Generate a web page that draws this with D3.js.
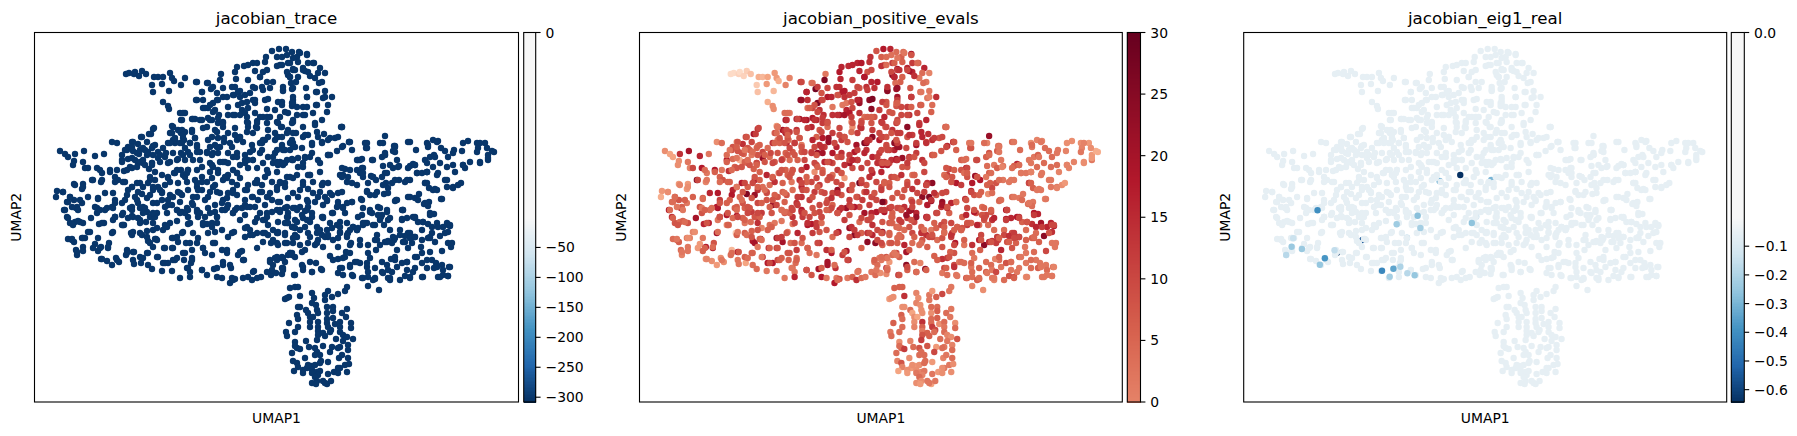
<!DOCTYPE html>
<html>
<head>
<meta charset="utf-8">
<title>Jacobian summaries on UMAP</title>
<script src="https://cdn.jsdelivr.net/npm/d3@7/dist/d3.min.js"></script>
<style>
  html, body { margin: 0; padding: 0; background: #fff; }
  svg { display: block; }
  text { font-family: "DejaVu Sans", sans-serif; fill: #000; }
</style>
</head>
<body>
<div id="chart"></div>
<script>
// Cells as [UMAP1, UMAP2, number of positive eigenvalues], grouped by region of the embedding.
const tailCells = [[126,74,-18],[129,73,-18],[134,74,-16],[135,72,-18],[139,76,-16],[142,71,-15],[146,74,-12],[154,77,-8],[158,77,-10],[163,77,-6],[170,73,-4],[172,78,-4],[174,81,-8],[162,84,-4],[152,85,-14],[153,92,-12],[169,91,-10],[163,102,-8],[168,106,-2],[169,109,-2],[181,85,0],[185,78,0],[196,82,14],[207,83,2],[221,74,2],[220,80,26],[211,89,28],[202,92,22],[196,100,24],[203,100,14]];

const crownCells = [[213,103,26],[217,100,14],[223,97,18],[227,97,16],[223,88,10],[217,93,8],[235,87,14],[240,91,18],[234,95,10],[235,72,18],[236,79,16],[237,67,16],[244,66,15],[248,65,16],[253,63,16],[257,63,18],[265,62,14],[266,57,14],[272,51,8],[279,49,18],[286,49,16],[292,52,4],[299,52,4],[307,54,20],[297,57,6],[287,55,3],[277,57,6],[314,63,8],[308,63,12],[320,68,16],[288,63,12],[280,65,8],[277,66,14],[298,62,6],[293,69,20],[288,75,24],[290,77,20],[303,68,16],[308,72,16],[318,73,4],[325,73,0],[315,78,2],[322,82,2],[319,83,4],[310,76,14],[298,77,6],[296,82,6],[283,90,20],[292,89,22],[293,97,20],[306,88,8],[307,97,20],[316,92,4],[325,91,2],[332,97,14],[323,98,2],[328,105,4],[316,105,10],[292,106,8],[303,107,12],[282,102,8],[327,112,6],[322,120,16],[313,113,10],[305,115,14],[297,115,10],[288,113,8],[280,117,16],[292,123,12],[303,127,24],[315,123,12],[260,77,26],[255,71,16],[263,72,8],[267,82,16],[273,82,18],[255,88,8],[262,87,14],[270,88,14],[283,91,24],[282,65,4],[293,70,12],[291,83,4],[305,71,20],[293,88,22],[250,93,12],[245,95,12],[238,92,18],[232,87,14],[278,102,12],[282,105,8],[292,103,4],[297,107,10],[307,107,6],[275,110,12],[255,113,14],[248,108,10],[242,110,16]];

const shoulderCells = [[341,127,6],[308,135,12],[317,132,16],[324,134,14],[318,137,16],[335,138,8],[328,140,14],[312,145,20],[303,137,8],[296,133,12],[288,130,14],[278,137,14],[291,142,22],[295,147,20],[290,150,16],[282,147,6],[275,153,12],[349,142,14],[343,146,16],[337,151,8],[328,155,6],[318,160,14],[312,153,12],[305,157,14],[298,158,22],[292,159,22],[285,163,10],[278,165,18],[298,167,8],[308,175,4],[320,172,10],[328,183,24],[322,185,18],[313,182,12],[303,182,8],[293,178,6],[285,183,6],[277,187,10],[300,190,8],[308,189,14],[318,197,24],[325,197,26],[327,201,22],[338,193,10],[338,202,22],[337,207,14],[323,205,18],[315,202,6],[307,200,6],[298,197,8],[288,198,8],[280,202,14],[295,208,8],[305,211,20],[312,213,16],[303,218,12],[288,213,6],[280,212,18],[278,222,8],[292,227,2],[300,230,4],[310,222,10],[322,217,18],[330,223,6],[340,222,8],[347,223,10],[318,230,2],[308,233,10],[327,230,2],[295,235,4],[285,233,6],[353,227,4],[357,230,8],[345,213,6],[352,202,0],[347,203,16]];

const armCells = [[357,160,6],[362,159,4],[372,160,8],[382,157,6],[385,153,8],[383,166,4],[362,168,18],[390,165,2],[399,166,2],[413,164,16],[410,166,6],[365,143,2],[366,148,8],[383,143,0],[385,136,22],[394,146,2],[393,151,6],[408,142,4],[416,150,4],[345,169,10],[343,175,12],[357,170,8],[360,173,4],[363,177,8],[352,183,18],[347,182,8],[340,175,4],[371,176,22],[376,180,18],[368,183,18],[385,173,6],[382,177,2],[386,183,6],[388,188,10],[392,183,8],[399,180,2],[405,182,2],[410,180,2],[417,173,4],[422,173,2],[427,172,2],[437,175,2],[425,183,18],[429,188,6],[433,190,2],[447,187,2],[453,187,2],[458,185,-2],[461,183,-4],[445,180,2],[425,160,2],[430,157,2],[434,155,6],[428,147,2],[427,143,-2],[433,140,0],[438,141,0],[441,148,4],[445,151,4],[454,150,2],[448,157,4],[440,163,4],[447,167,4],[453,165,4],[455,172,0],[463,165,2],[465,168,0],[470,162,0],[463,143,-2],[468,141,-2],[462,151,0],[477,143,-2],[478,148,0],[485,143,-4],[488,155,-4],[494,152,-8],[492,151,-8],[480,163,-2],[488,160,2],[477,152,2],[342,127,8],[349,142,12],[352,150,6],[367,148,8],[373,160,10],[380,143,4],[395,146,4],[410,142,2],[428,145,4],[437,142,2],[385,155,6],[393,168,6],[408,168,4],[415,165,10],[427,172,4],[433,167,4],[425,183,10],[435,189,2]];

const flankCells = [[361,199,14],[367,191,16],[370,195,8],[377,192,6],[384,194,-2],[395,201,4],[408,197,4],[419,194,2],[415,198,2],[424,204,4],[429,202,2],[441,199,0],[430,213,18],[434,214,16],[402,210,18],[402,219,18],[407,218,16],[413,217,18],[388,220,14],[381,217,6],[372,213,8],[363,208,10],[358,217,6],[365,223,10],[375,225,4],[384,225,4],[390,230,4],[400,230,4],[418,222,6],[423,222,14],[428,224,14],[437,223,20],[447,223,16],[450,226,18],[443,227,16],[432,227,16],[448,232,14],[440,236,24],[432,233,4],[422,230,4],[413,237,8],[408,233,10],[400,235,10],[415,237,22],[405,236,14],[410,233,12],[388,241,14],[394,240,10],[380,245,24],[375,240,16],[368,245,14],[360,245,2],[351,243,18],[347,237,12],[348,233,12],[353,227,6],[363,225,12],[373,225,16],[422,240,6],[421,247,2],[430,238,6],[435,242,6],[448,243,2],[451,247,2],[442,251,10],[430,252,4],[422,253,2],[412,243,6],[403,242,8],[408,248,8],[397,250,16],[392,243,12],[385,242,14],[376,250,6],[368,253,4],[350,253,8],[346,252,6],[338,247,8],[333,240,4],[328,237,10],[322,235,14],[315,245,4],[308,243,4],[318,240,8],[300,245,16],[293,238,4],[285,235,6],[290,253,6],[302,252,20],[293,243,6],[295,257,6],[282,258,4],[277,260,2],[282,268,16],[302,265,24],[303,270,6],[312,272,10],[316,263,0],[321,269,24],[294,275,14],[330,256,6],[338,259,14],[343,258,12],[350,265,10],[340,268,10],[338,273,2],[343,275,4],[353,276,2],[350,267,14],[355,262,2],[360,263,4],[367,267,2],[368,272,4],[375,268,6],[382,272,6],[383,273,2],[367,263,6],[375,279,8],[362,278,8],[368,277,4],[373,280,6],[368,286,0],[379,290,-2],[388,278,2],[390,280,0],[387,265,4],[388,270,2],[392,272,10],[397,267,2],[402,263,8],[407,262,2],[395,260,4],[391,259,0],[400,280,4],[405,276,8],[410,277,10],[413,272,2],[415,268,2],[422,277,-2],[415,257,4],[422,263,2],[427,268,4],[432,260,2],[436,263,2],[434,268,6],[442,265,2],[443,270,4],[449,267,2],[438,277,2],[443,275,2],[448,276,0],[407,270,2],[288,217,6],[302,215,22],[307,210,22],[312,217,22],[323,218,14],[332,213,12],[338,205,20],[343,208,14],[362,215,16],[370,212,18],[378,207,4],[382,215,10],[390,218,16],[288,223,4],[297,222,12],[295,228,4],[278,232,22],[317,233,14],[325,237,10],[338,238,8],[332,228,6],[340,232,6],[337,225,10],[278,245,6],[285,243,6],[275,258,2],[288,255,4],[310,262,4],[396,200,6],[403,210,16],[418,200,4],[428,206,4],[415,217,14],[378,215,8],[367,192,10],[375,195,6],[383,185,6],[388,193,4],[373,177,12],[363,168,10],[358,160,6],[348,177,8],[357,185,12],[342,168,8],[358,228,8],[377,235,10],[393,237,12],[410,238,10],[428,238,6],[347,235,14]];

const stemCells = [[290,288,6],[295,287,6],[298,287,6],[300,296,14],[289,297,-2],[285,299,-4],[312,293,0],[314,298,-2],[325,295,2],[328,291,-4],[325,300,2],[332,297,6],[338,294,10],[345,291,2],[347,287,2],[300,307,-2],[298,307,-2],[312,303,0],[316,305,-2],[317,310,-2],[306,310,4],[308,313,-6],[318,313,-2],[327,307,4],[333,307,4],[333,311,6],[347,309,2],[297,315,6],[298,319,4],[310,317,-2],[313,317,-6],[327,313,-2],[327,319,4],[333,318,6],[342,313,4],[346,317,2],[289,323,6],[298,327,4],[310,322,-2],[310,327,0],[318,322,14],[318,327,6],[318,331,2],[327,323,4],[328,327,12],[331,330,10],[335,324,-2],[340,322,4],[340,327,2],[351,323,-2],[351,328,4],[286,332,2],[287,336,4],[295,332,4],[323,333,6],[325,336,6],[330,332,4],[340,332,4],[343,335,0],[347,337,-2],[353,339,8],[318,335,8],[317,340,12],[336,339,4],[295,342,-2],[306,341,0],[297,348,6],[295,346,4],[300,349,12],[309,347,4],[315,348,8],[323,346,8],[332,347,-4],[340,347,2],[343,341,2],[348,345,0],[348,350,4],[338,348,4],[330,352,10],[317,352,4],[320,355,4],[315,355,4],[292,353,4],[305,358,-2],[339,358,0],[342,355,2],[348,358,4],[321,361,4],[328,362,-4],[293,361,0],[297,363,8],[298,367,0],[311,366,-4],[315,365,-2],[320,363,4],[307,368,-4],[303,370,-2],[345,365,2],[349,364,-2],[340,368,2],[338,368,-2],[294,371,-6],[303,373,-4],[312,370,-2],[317,372,0],[320,371,2],[334,372,-4],[347,372,-2],[328,374,2],[338,373,-2],[312,373,2],[318,375,0],[315,377,4],[317,381,-2],[312,383,-2],[316,384,-4],[323,381,2],[327,384,-6],[331,381,2],[325,383,2],[308,365,-2],[287,298,-2]];

const lowerBodyCells = [[64,210,18],[67,217,14],[70,223,8],[75,222,4],[73,225,8],[83,223,8],[78,221,6],[91,218,20],[99,224,16],[104,223,16],[112,233,20],[88,232,0],[82,238,2],[85,238,0],[68,239,4],[72,240,4],[74,242,6],[98,238,2],[95,244,-4],[93,248,-4],[101,247,18],[108,248,18],[109,243,8],[98,251,6],[83,247,2],[83,251,2],[76,250,4],[77,255,0],[101,259,-2],[107,261,-2],[112,265,-4],[116,258,-2],[119,262,-2],[127,250,-10],[126,255,4],[133,252,18],[133,260,2],[134,264,2],[141,263,-6],[140,257,6],[147,253,6],[148,265,4],[152,269,4],[158,257,14],[164,248,16],[172,248,12],[163,263,18],[168,263,18],[162,271,2],[173,260,10],[177,258,6],[172,271,2],[184,260,6],[188,268,4],[192,258,4],[191,263,4],[190,272,2],[190,277,16],[180,278,2],[202,270,18],[207,275,8],[214,269,20],[217,277,18],[223,262,20],[223,265,20],[231,268,14],[232,278,2],[222,278,2],[230,283,18],[235,279,8],[243,278,2],[248,277,6],[252,280,14],[257,278,4],[261,277,2],[267,272,2],[271,275,4],[276,273,-2],[282,274,-1],[283,268,2],[273,265,4],[270,262,4],[254,271,4],[244,260,18],[238,255,12],[242,251,20],[227,253,18],[222,250,14],[212,255,2],[205,253,4],[203,248,8],[197,243,4],[192,250,12],[183,253,8],[186,243,4],[178,242,20],[172,238,24],[156,239,20],[148,241,18],[150,243,20],[153,247,2],[140,233,6],[131,233,-14],[122,225,-2],[124,225,4],[115,217,20],[113,220,2],[122,215,18],[132,216,18],[128,218,4],[140,223,2],[146,222,4],[153,217,20],[153,223,14],[147,231,6],[157,228,0],[165,225,4],[170,223,2],[177,221,2],[183,232,2],[188,224,2],[193,233,16],[203,225,18],[207,224,18],[198,238,8],[212,223,12],[217,223,4],[208,233,12],[215,232,8],[215,243,14],[228,237,4],[234,232,18],[245,228,22],[250,235,24],[245,237,10],[257,233,6],[263,242,24],[271,243,24],[268,235,16],[255,222,4],[265,220,8],[260,213,20],[245,215,8],[235,210,18],[242,208,22],[225,210,8],[215,212,10],[205,217,10],[198,212,18],[188,217,14],[182,212,2],[168,205,22],[155,215,0],[147,212,12],[140,208,6],[132,207,6],[122,203,6],[113,208,20],[105,210,4],[97,213,8],[76,208,20],[82,203,2],[68,202,4],[268,225,14],[272,212,18],[285,262,-4],[282,257,8],[292,253,10]];

const westBodyCells = [[60,151,-2],[65,154,-6],[68,157,-6],[75,154,14],[84,151,20],[95,156,16],[104,154,2],[74,161,-2],[73,165,-2],[83,162,2],[85,168,0],[97,168,18],[92,180,26],[101,182,0],[88,168,10],[102,173,2],[110,170,18],[115,177,6],[124,171,14],[122,160,18],[128,159,4],[135,160,-8],[138,163,-8],[130,167,6],[143,163,10],[149,169,6],[152,163,6],[158,158,22],[165,157,4],[170,162,8],[112,142,-2],[117,143,4],[128,147,8],[132,142,2],[138,144,14],[141,137,10],[149,134,20],[153,129,14],[147,142,10],[153,146,2],[143,148,8],[152,148,6],[133,151,8],[127,150,8],[122,155,4],[139,154,6],[147,155,2],[158,152,10],[168,143,14],[175,143,6],[172,126,-4],[178,130,20],[170,133,4],[185,132,12],[181,133,20],[173,140,2],[182,143,16],[190,143,10],[184,140,4],[195,138,4],[197,145,2],[197,152,8],[188,152,8],[181,153,6],[178,159,6],[185,160,4],[193,160,6],[202,167,18],[188,170,2],[181,170,6],[183,175,6],[174,173,2],[162,175,16],[155,172,6],[150,180,18],[158,187,4],[165,185,4],[170,182,14],[178,183,6],[187,182,2],[195,180,14],[202,177,6],[162,193,8],[153,190,14],[142,194,26],[143,187,6],[137,183,18],[132,187,6],[128,190,16],[125,182,6],[118,180,8],[113,193,18],[105,193,16],[98,198,6],[88,197,6],[82,189,-4],[83,184,-4],[74,184,-4],[57,191,-4],[63,192,-4],[56,197,-8],[70,197,8],[67,202,4],[74,200,8],[77,207,6],[95,207,8],[115,200,12],[112,207,18],[127,195,18],[135,197,4],[138,203,8],[130,208,6],[143,207,8],[150,195,22],[153,203,10],[162,200,8],[173,197,8],[180,202,6],[177,210,0],[185,213,6],[192,203,14],[197,197,14],[197,210,18],[178,192,6],[170,195,6],[188,190,4],[142,137,8],[151,134,12],[154,128,10],[173,127,8],[171,133,10],[180,131,14],[183,138,8],[175,140,6],[192,130,14],[190,143,12],[197,147,8],[200,152,10],[185,148,10],[183,155,8],[173,153,8],[166,153,10],[160,155,6],[153,155,8],[145,150,6],[137,153,8],[133,142,8],[140,162,6],[132,168,8],[145,165,8],[152,163,10],[160,162,8],[168,163,10],[177,160,12],[188,170,8],[197,170,12],[185,177,8],[175,173,10],[168,178,12],[155,180,6],[148,183,10],[138,192,8],[162,192,10],[182,195,8],[172,205,10],[165,207,6],[145,208,8],[157,213,12],[150,217,8],[138,218,6],[133,217,10],[180,213,8],[187,208,10],[193,205,12],[197,212,14],[190,223,10],[182,233,8],[173,238,12],[163,230,6],[153,230,8],[142,235,4],[132,235,6],[155,239,6]];

const coreCells = [[203,108,4],[197,100,22],[208,108,10],[215,110,14],[219,115,14],[212,120,16],[218,123,12],[223,122,10],[228,115,14],[228,107,2],[235,115,20],[240,115,20],[245,113,18],[238,105,2],[242,103,2],[247,102,8],[255,103,22],[255,100,20],[265,100,24],[268,99,26],[267,109,24],[260,117,4],[263,117,6],[270,117,8],[267,123,8],[257,121,8],[247,122,-2],[248,127,-2],[256,127,16],[247,132,4],[235,128,10],[268,137,24],[277,122,14],[281,127,6],[275,133,10],[282,137,8],[290,143,24],[285,150,12],[293,147,22],[275,140,18],[262,150,14],[268,157,16],[278,163,18],[283,165,18],[273,163,14],[263,163,10],[257,168,12],[248,168,10],[255,183,28],[262,185,8],[268,173,16],[277,172,16],[272,182,10],[280,182,6],[285,187,8],[248,185,8],[240,178,-4],[237,173,-2],[228,175,4],[218,170,6],[223,180,8],[232,182,10],[215,185,12],[207,182,10],[197,187,16],[195,119,20],[192,119,20],[202,120,20],[181,120,20],[180,113,4],[185,113,2],[208,118,18],[207,127,16],[223,127,4],[215,130,8],[212,137,6],[228,133,12],[237,140,12],[243,142,8],[252,145,20],[262,143,24],[260,143,26],[250,152,18],[245,155,12],[253,160,14],[245,163,20],[233,157,8],[237,153,14],[228,153,18],[232,147,16],[224,142,22],[224,138,22],[218,138,18],[208,140,16],[215,145,14],[207,152,8],[213,153,22],[218,153,20],[228,163,10],[220,162,16],[212,165,10],[210,172,-2],[205,200,12],[208,208,8],[215,205,10],[223,200,8],[228,193,10],[233,190,22],[237,195,8],[228,205,6],[245,200,12],[253,197,14],[260,192,8],[268,197,14],[278,202,26],[265,205,12],[255,207,10],[250,207,18],[285,208,12],[210,147,10],[212,155,8],[210,163,10],[220,147,12],[225,162,14],[235,135,10],[240,137,12],[248,123,8],[257,128,14],[268,130,12],[262,142,16],[253,150,12],[245,160,10],[240,165,14],[233,170,12],[227,178,8],[218,173,8],[212,178,10],[202,182,6],[198,190,10],[210,192,12],[217,192,8],[222,203,10],[227,198,14],[237,185,10],[245,190,16],[257,183,12],[252,197,8],[262,192,14],[267,197,10],[277,190,12],[287,177,10],[297,175,14],[303,167,8],[280,162,12],[277,150,10],[287,160,14],[305,158,10],[253,160,12],[245,205,12],[237,208,14],[227,208,10],[217,217,8],[212,227,12],[203,223,14],[240,220,12],[232,233,10],[222,230,8],[247,227,14],[257,218,10],[267,213,16],[277,210,12],[287,207,10],[300,207,14],[295,220,12],[285,223,8],[273,230,10],[263,233,14],[253,235,12],[277,243,10],[297,237,6],[305,227,8],[292,160,18],[282,145,10],[293,133,12],[305,135,14],[322,142,10],[328,155,8],[310,175,6],[323,183,14],[320,192,12],[332,195,8],[342,192,10],[327,200,14],[308,202,12],[293,193,8],[303,185,10],[280,183,8],[272,200,10],[265,177,14],[277,162,12],[265,140,12],[293,208,10],[280,210,12],[267,217,10],[293,227,8],[317,227,6],[328,235,8],[310,237,6],[278,233,12],[265,233,10]];

// Further cells filling the upper body and the western side.
const upperFillCells = [[197,82,10],[208,83,4],[213,87,12],[202,92,16],[210,105,8],[218,100,10],[233,95,8],[205,108,6],[213,112,10],[218,118,12],[210,120,14],[200,120,16],[193,119,10],[183,113,4],[182,120,14],[173,127,2],[182,130,10],[192,132,8],[203,128,12],[195,138,8],[183,135,6],[175,138,8],[172,133,4],[180,143,8],[170,143,6],[163,148,4],[155,145,6],[148,152,4],[140,150,2],[132,147,6],[125,150,2],[122,162,6],[132,158,2],[143,160,4],[152,165,6],[137,167,8],[127,170,4],[117,170,2],[110,172,6],[100,170,4],[93,180,10],[102,180,2],[115,182,4],[123,182,6],[132,187,2],[140,183,10],[150,177,8],[153,187,6],[160,190,4],[168,177,6],[177,170,8],[187,173,8],[197,183,10],[202,190,8],[213,187,6],[225,177,10],[237,173,8],[220,193,10],[208,197,8],[193,197,12],[180,193,4],[168,200,8],[157,203,6],[147,198,8],[137,200,4],[125,200,6],[115,203,8],[107,208,4],[97,208,2],[98,199,4],[83,187,-2],[75,185,0],[80,200,6],[70,197,4],[63,192,-2],[72,207,2],[65,210,4],[78,210,2],[115,217,6],[123,213,8],[132,210,4],[143,213,10],[155,217,6],[167,213,8],[177,210,4],[188,210,10],[198,217,12],[210,213,8],[222,210,6],[233,213,12],[247,207,10],[258,200,12],[270,193,8],[280,183,6],[233,193,14],[247,190,8],[257,180,10],[267,170,12],[278,163,8],[248,160,16],[237,157,10],[223,162,8],[213,167,6],[200,160,10],[190,155,8],[207,153,12],[217,147,14],[230,143,10],[240,137,8],[253,133,12],[263,140,14],[277,137,10],[287,133,8],[293,143,12],[283,150,10],[273,157,12],[260,153,16],[267,117,6],[257,123,10],[247,117,12],[233,115,14],[223,123,8],[217,132,10],[253,100,16],[263,90,12],[253,87,10],[240,97,14],[248,80,12],[260,77,18],[267,70,10],[283,87,14],[293,100,12],[285,112,8],[293,120,10],[278,123,12],[290,63,6],[282,57,4],[287,72,10],[293,58,2]];

const lowerFillCells = [[72,239,2],[83,238,-2],[77,252,2],[100,248,6],[108,247,4],[102,259,0],[117,260,2],[127,253,4],[134,252,8],[143,258,4],[148,253,6],[157,257,2],[165,248,6],[173,248,8],[165,263,10],[175,260,6],[185,253,8],[192,260,6],[187,268,2],[202,270,8],[217,268,6],[230,265,4],[233,280,4],[243,260,10],[253,272,2],[272,270,2],[283,270,4],[270,260,6],[277,257,4],[290,253,2],[287,243,8],[273,240,10],[257,248,6],[240,252,8],[227,250,6],[213,243,10],[203,248,6],[190,243,8],[177,237,12],[167,227,6],[157,240,4],[147,237,8],[133,232,2],[123,225,6],[113,232,4],[102,223,8],[90,232,-2],[68,218,6],[80,222,4],[100,210,6],[115,217,8],[140,220,6],[153,213,10],[180,212,4],[200,213,8],[217,217,10],[233,213,8],[250,230,12],[263,220,10],[277,233,8],[287,223,6],[295,237,4]];

const eastFillCells = [[300,53,2],[307,55,8],[313,63,4],[295,70,14],[303,70,10],[290,77,16],[317,92,2],[325,97,0],[307,97,12],[293,103,6],[317,105,6],[303,115,10],[293,122,8],[282,127,10],[315,125,14],[342,127,4],[338,137,10],[330,138,12],[322,143,14],[312,143,12],[302,148,10],[292,140,8],[350,142,8],[342,147,10],[330,155,6],[320,163,10],[310,157,8],[303,163,12],[293,160,14],[283,163,8],[290,177,8],[310,175,6],[322,185,10],[313,193,10],[330,193,14],[342,177,6],[350,170,6],[360,160,4],[363,173,6],[373,177,8],[387,173,4],[395,180,4],[407,180,2],[417,173,2],[427,172,0],[438,173,2],[447,180,2],[427,183,6],[437,190,2],[453,188,0],[442,199,2],[425,203,2],[410,197,2],[397,200,4],[380,208,6],[370,210,8],[362,200,8],[352,202,4],[343,207,8],[333,213,10],[323,217,12],[308,207,10],[297,210,8],[287,217,6],[293,227,4],[307,220,8],[320,230,4],[340,227,6],[357,230,6],[367,223,6],[380,220,8],[402,220,12],[415,218,10],[423,222,8],[438,227,12],[448,225,10],[430,215,12],[403,210,10],[387,212,8],[367,143,2],[395,147,2],[395,152,2],[385,155,4],[397,160,2],[398,167,0],[415,165,4],[427,163,2],[435,157,2],[453,153,2],[463,165,0],[480,162,-2],[488,158,-4],[480,143,0],[487,148,-2],[317,243,4],[323,247,6],[305,250,8],[292,255,2],[283,258,2],[303,267,10],[322,270,6],[295,275,8],[312,272,4],[342,268,6],[352,275,2],[363,278,4],[375,278,4],[390,278,2],[410,278,6],[423,277,0],[440,277,2],[448,276,2],[437,267,2],[450,267,0],[427,260,4],[417,257,2],[407,262,4],[395,257,6],[382,262,4],[370,258,2],[357,262,4],[345,257,8],[333,260,6],[377,240,8],[387,242,8],[395,238,6],[405,242,6],[415,237,10],[430,237,4],[445,233,8],[450,225,10],[452,243,2],[360,240,6],[350,245,10],[340,233,4],[350,230,6],[363,223,8],[380,218,10],[387,210,6]];

const traceLevel = -301;
const eig1Level = -0.058;

// Cells whose leading eigenvalue stands out, [UMAP1, UMAP2, real part].
const eig1Hidden = [[128.1,252.7,-0.64],[153.5,240,-0.55],[267.5,216.5,-0.18],[198.1,237.7,-0.2],[230.8,181,-0.3],[282.5,180,-0.3]];
const eig1Outliers = [[251.5,175,-0.64],[108.5,210.3,-0.4],[208.8,215.7,-0.27],[187.8,224.3,-0.23],[263.1,223,-0.26],[211.5,228,-0.22],[115.8,258.3,-0.38],[92.8,249,-0.24],[82.5,246.7,-0.24],[77.1,255,-0.18],[110.8,264.7,-0.25],[125.5,250.3,-0.16],[173.1,270.7,-0.42],[184.5,268.7,-0.34],[191.5,266.7,-0.2],[180.8,276.7,-0.22],[205.8,275.3,-0.25],[198.5,273.3,-0.18],[84.1,238.3,-0.14]];

const panelTitles = ["jacobian_trace", "jacobian_positive_evals", "jacobian_eig1_real"];
const traceTicks = [0, -50, -100, -150, -200, -250, -300];
const positiveTicks = [0, 5, 10, 15, 20, 25, 30];
const eig1Ticks = [0, -0.1, -0.2, -0.3, -0.4, -0.5, -0.6];
const traceMin = -308;
const eig1Min = -0.643;
const positiveMax = 30;

// matplotlib's RdBu_r control colours.
const rdbuStops = ["#053061","#2166ac","#4393c3","#92c5de","#d1e5f0","#f7f7f7","#fddbc7","#f4a582","#d6604d","#b2182b","#67001f"];

const cells = [].concat(tailCells, crownCells, shoulderCells, armCells, flankCells, stemCells, lowerBodyCells, westBodyCells, coreCells, upperFillCells, lowerFillCells, eastFillCells);

const WIDTH = 1797, HEIGHT = 436;
const TOP = 32.5, BOTTOM = 402;
const MID = 217.5;
const RADIUS = 3.2;
const FONT = 13.9;

const ramp = d3.piecewise(d3.interpolateRgb, rdbuStops);

// Below zero the colour runs over the lower half of the colormap; the upper half collapses at zero.
const centredNorm = vmin => v => v >= 0 ? 0.5 : 0.5 * (1 - v / vmin);
const positiveNorm = d3.scaleLinear().domain([0, positiveMax]).range([0.75, 1]);

const panels = [
  { left: 34.5, right: 518.5, barLeft: 523.7, barRight: 535.7, title: panelTitles[0], norm: centredNorm(traceMin),
    axis: d3.scaleLinear().domain([traceMin, 0]).range([BOTTOM, MID]), barMin: traceMin, barMax: 0, ticks: traceTicks, format: d3.format("d"), centred: true },
  { left: 639.5, right: 1122.3, barLeft: 1127.3, barRight: 1140.5, title: panelTitles[1], norm: v => positiveNorm(v),
    axis: d3.scaleLinear().domain([0, positiveMax]).range([BOTTOM, TOP]), barMin: 0, barMax: positiveMax, ticks: positiveTicks, format: d3.format("d"), centred: false },
  { left: 1243.7, right: 1726.7, barLeft: 1731.3, barRight: 1744.3, title: panelTitles[2], norm: centredNorm(eig1Min),
    axis: d3.scaleLinear().domain([eig1Min, 0]).range([BOTTOM, MID]), barMin: eig1Min, barMax: 0, ticks: eig1Ticks, format: d3.format(".1f"), centred: true }
];

const svg = d3.select("#chart").append("svg").attr("width", WIDTH).attr("height", HEIGHT);
const minus = s => s.replace("-", "\u2212");

panels.forEach((p, i) => {
  const x = d3.scaleLinear().domain([34.5, 518.5]).range([p.left, p.right]);
  const y = d3.scaleLinear().domain([TOP, BOTTOM]).range([TOP, BOTTOM]);
  const g = svg.append("g");

  const dots = (rows, valueOf) => g.append("g").selectAll("circle").data(rows).join("circle")
    .attr("cx", d => x(d[0])).attr("cy", d => y(d[1])).attr("r", RADIUS)
    .attr("fill", d => ramp(p.norm(valueOf(d))));

  if (i === 0) dots(cells, () => traceLevel);
  if (i === 1) dots(cells, d => d[2]);
  if (i === 2) {
    dots(eig1Hidden, d => d[2]);
    dots(cells, () => eig1Level);
    dots(eig1Outliers, d => d[2]);
  }

  // Plot frame, title and axis names.
  g.append("rect").attr("x", p.left).attr("y", TOP).attr("width", p.right - p.left).attr("height", BOTTOM - TOP)
    .attr("fill", "none").attr("stroke", "#000").attr("stroke-width", 1.1);
  g.append("text").attr("x", (p.left + p.right) / 2).attr("y", 24).attr("text-anchor", "middle")
    .attr("font-size", 16.67).text(p.title);
  g.append("text").attr("x", (p.left + p.right) / 2).attr("y", 423).attr("text-anchor", "middle")
    .attr("font-size", FONT).text("UMAP1");
  g.append("text").attr("transform", `translate(${p.left - 13.5},${(TOP + BOTTOM) / 2}) rotate(-90)`)
    .attr("text-anchor", "middle").attr("font-size", FONT).text("UMAP2");

  // Colour bar, built as thin strips.
  const strip = d3.range(256);
  const barY = d3.scaleLinear().domain([0, 256]).range([BOTTOM, TOP]);
  const barT = p.centred ? (k => k < 128 ? (k + 0.5) / 256 : 0.5) : (k => p.norm(p.barMin + (k + 0.5) / 256 * (p.barMax - p.barMin)));
  g.append("g").attr("shape-rendering", "crispEdges").selectAll("rect").data(strip).join("rect")
    .attr("x", p.barLeft).attr("width", p.barRight - p.barLeft)
    .attr("y", k => barY(k + 1)).attr("height", k => barY(k) - barY(k + 1) + 0.6)
    .attr("fill", k => ramp(barT(k)));
  g.append("rect").attr("x", p.barLeft).attr("y", TOP).attr("width", p.barRight - p.barLeft).attr("height", BOTTOM - TOP)
    .attr("fill", "none").attr("stroke", "#000").attr("stroke-width", 1.1);

  // The zero of a centred bar sits at its top edge, since the upper half has no extent.
  const tickY = v => (p.centred && v === 0) ? TOP : p.axis(v);
  const ticks = g.append("g").selectAll("g").data(p.ticks).join("g")
    .attr("transform", v => `translate(${p.barRight},${tickY(v)})`);
  ticks.append("line").attr("x1", 0).attr("x2", 4.9).attr("stroke", "#000").attr("stroke-width", 1.1);
  ticks.append("text").attr("x", 9.8).attr("dy", "0.36em").attr("font-size", FONT).text(v => minus(p.format(v)));
});
</script>
</body>
</html>
